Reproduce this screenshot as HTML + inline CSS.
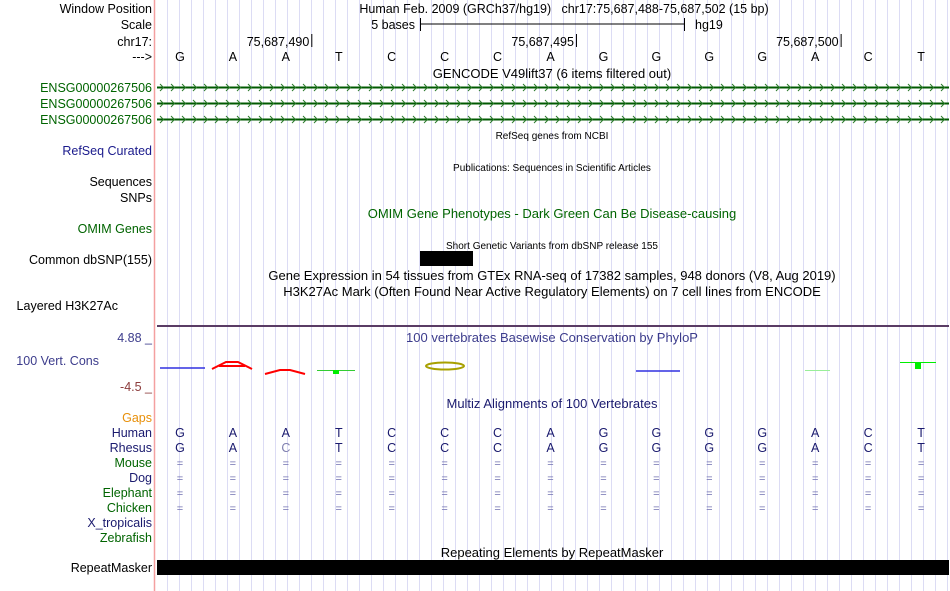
<!DOCTYPE html>
<html><head><meta charset="utf-8"><style>
body{margin:0;background:#fff;width:950px;height:591px;overflow:hidden}
svg{display:block;font-family:"Liberation Sans",sans-serif}
</style></head><body>
<svg id="c" width="950" height="591" viewBox="0 0 950 591">
<g id="grid"></g>
<line x1="154.5" y1="0" x2="154.5" y2="591" stroke="#f4a0a0" stroke-width="1.5"/>
<g font-size="12.5" text-anchor="end">
<text x="152" y="13" fill="#000">Window Position</text>
<text x="152" y="29" fill="#000">Scale</text>
<text x="152" y="46" fill="#000">chr17:</text>
<text x="152" y="61" fill="#000">---&gt;</text>
<text x="152" y="92" fill="#006400">ENSG00000267506</text>
<text x="152" y="108" fill="#006400">ENSG00000267506</text>
<text x="152" y="124" fill="#006400">ENSG00000267506</text>
<text x="152" y="155" fill="#1a1a8c">RefSeq Curated</text>
<text x="152" y="186" fill="#000">Sequences</text>
<text x="152" y="202" fill="#000">SNPs</text>
<text x="152" y="233" fill="#006400">OMIM Genes</text>
<text x="152" y="264" fill="#000">Common dbSNP(155)</text>
<text x="118" y="310" fill="#000">Layered H3K27Ac</text>
<text x="152" y="342" fill="#3c3c8c">4.88 _</text>
<text x="99" y="365" fill="#3c3c8c">100 Vert. Cons</text>
<text x="152" y="391" fill="#8c3c3c">-4.5 _</text>
<text x="152" y="422" fill="#e8900a">Gaps</text>
<text x="152" y="437" fill="#1a1a6e">Human</text>
<text x="152" y="452" fill="#1a1a6e">Rhesus</text>
<text x="152" y="467" fill="#006400">Mouse</text>
<text x="152" y="482" fill="#1a1a6e">Dog</text>
<text x="152" y="497" fill="#006400">Elephant</text>
<text x="152" y="512" fill="#006400">Chicken</text>
<text x="152" y="527" fill="#1a1a6e">X_tropicalis</text>
<text x="152" y="542" fill="#006400">Zebrafish</text>
<text x="152" y="572" fill="#000">RepeatMasker</text>
</g>
<g font-size="13" text-anchor="middle">
<text x="564" y="13" fill="#000" font-size="12.5" xml:space="preserve">Human Feb. 2009 (GRCh37/hg19)   chr17:75,687,488-75,687,502 (15 bp)</text>
<text x="552" y="78" fill="#000">GENCODE V49lift37 (6 items filtered out)</text>
<text x="552" y="139" fill="#000" font-size="10">RefSeq genes from NCBI</text>
<text x="552" y="171" fill="#000" font-size="10">Publications: Sequences in Scientific Articles</text>
<text x="552" y="218" fill="#006400">OMIM Gene Phenotypes - Dark Green Can Be Disease-causing</text>
<text x="552" y="249" fill="#000" font-size="10">Short Genetic Variants from dbSNP release 155</text>
<text x="552" y="280" fill="#000">Gene Expression in 54 tissues from GTEx RNA-seq of 17382 samples, 948 donors (V8, Aug 2019)</text>
<text x="552" y="296" fill="#000">H3K27Ac Mark (Often Found Near Active Regulatory Elements) on 7 cell lines from ENCODE</text>
<text x="552" y="342" fill="#3c3c8c">100 vertebrates Basewise Conservation by PhyloP</text>
<text x="552" y="408" fill="#1a1a6e">Multiz Alignments of 100 Vertebrates</text>
<text x="552" y="557" fill="#000">Repeating Elements by RepeatMasker</text>
</g>
<g>
<line x1="420" y1="24" x2="684" y2="24" stroke="#000"/>
<line x1="420.5" y1="18" x2="420.5" y2="31" stroke="#000"/>
<line x1="684.5" y1="18" x2="684.5" y2="31" stroke="#000"/>
<text x="415" y="29" font-size="12.5" text-anchor="end">5 bases</text>
<text x="695" y="29" font-size="12.5">hg19</text>
</g>
<g id="pos" font-size="12.5" text-anchor="end"></g>
<g id="seq" font-size="12.5" text-anchor="middle"></g>
<g id="genes"></g>
<rect x="420" y="251" width="53" height="15" fill="#000"/>
<line x1="157" y1="326" x2="949" y2="326" stroke="#5a3c64" stroke-width="2"/>
<g>
<line x1="160" y1="368" x2="205" y2="368" stroke="#3030e0" stroke-width="1.5"/>
<path d="M212 369 L226 362 L238 362 L252 369 M219 366 L245 366" stroke="#f00" stroke-width="2" fill="none"/>
<path d="M265 374 L280 370 L290 370 L305 374" stroke="#f00" stroke-width="2" fill="none"/>
<line x1="317" y1="370.5" x2="355" y2="370.5" stroke="#3c3" stroke-width="1"/>
<rect x="333" y="370" width="6" height="4" fill="#0e0"/>
<ellipse cx="445" cy="366" rx="19" ry="3.5" fill="none" stroke="#a8a000" stroke-width="2"/>
<line x1="636" y1="371" x2="680" y2="371" stroke="#3030e0" stroke-width="1.5"/>
<line x1="805" y1="370.5" x2="830" y2="370.5" stroke="#9e9" stroke-width="1"/>
<line x1="900" y1="362.5" x2="936" y2="362.5" stroke="#0e0" stroke-width="1"/>
<rect x="915" y="362" width="6" height="7" fill="#0e0"/>
</g>
<g id="maf" font-size="12.5" text-anchor="middle"></g>
<rect x="157" y="560" width="792" height="15" fill="#000"/>
</svg>
<script>
const bases=["G","A","A","T","C","C","C","A","G","G","G","G","A","C","T"];
const rhesus=["G","A","C","T","C","C","C","A","G","G","G","G","A","C","T"];
const gapSpecies=["Mouse","Dog","Elephant","Chicken"];
const posLabels=["75,687,490","75,687,495","75,687,500"];
const posIndex=[2,7,12];
const startX=153.5,endX=947.5,bw=(endX-startX)/bases.length;
const xc=i=>startX+bw*(i+0.5);
const NS="http://www.w3.org/2000/svg";
function mk(tag,attrs,parent,txt){const e=document.createElementNS(NS,tag);for(const k in attrs)e.setAttribute(k,attrs[k]);if(txt!==undefined)e.textContent=txt;parent.appendChild(e);return e;}
const grid=document.getElementById('grid');
for(let x=167;x<=949;x+=12){const l=mk('line',{x1:x+0.5,y1:0,x2:x+0.5,y2:591,stroke:'#dcdcf4'},grid);

}
const seq=document.getElementById('seq');
bases.forEach((b,i)=>{const t=mk('text',{x:xc(i),y:61},seq,b);

});
const pos=document.getElementById('pos');
posLabels.forEach((p,k)=>{const xe=startX+bw*(posIndex[k]+1);
const t=mk('text',{x:xe-3,y:46},pos,p);


mk('line',{x1:xe-0.5,y1:34,x2:xe-0.5,y2:47,stroke:'#000'},pos);});
const genes=document.getElementById('genes');
[87.5,103.5,119.5].forEach(y=>{const g=mk('g',{},genes);


mk('line',{x1:157,y1:y,x2:949,y2:y,stroke:'#005a00','stroke-width':2},g);
let d='';for(let x=160;x<949;x+=11){d+=`M${x} ${y-3.5} L${x+3.5} ${y} L${x} ${y+3.5} `;}
mk('path',{d:d,stroke:'#2a7a2a','stroke-width':1,fill:'none'},g);});
const maf=document.getElementById('maf');
bases.forEach((b,i)=>{const t=mk('text',{x:xc(i),y:437,fill:'#1a1a6e'},maf,b);


const r=mk('text',{x:xc(i),y:452,fill:rhesus[i]===b?'#1a1a6e':'#8080b0'},maf,rhesus[i]);


gapSpecies.forEach((s,k)=>{const q=mk('text',{x:xc(i),y:467+15*k,fill:'#7070b0','font-size':11},maf,'=');

});});
</script>
</body></html>
